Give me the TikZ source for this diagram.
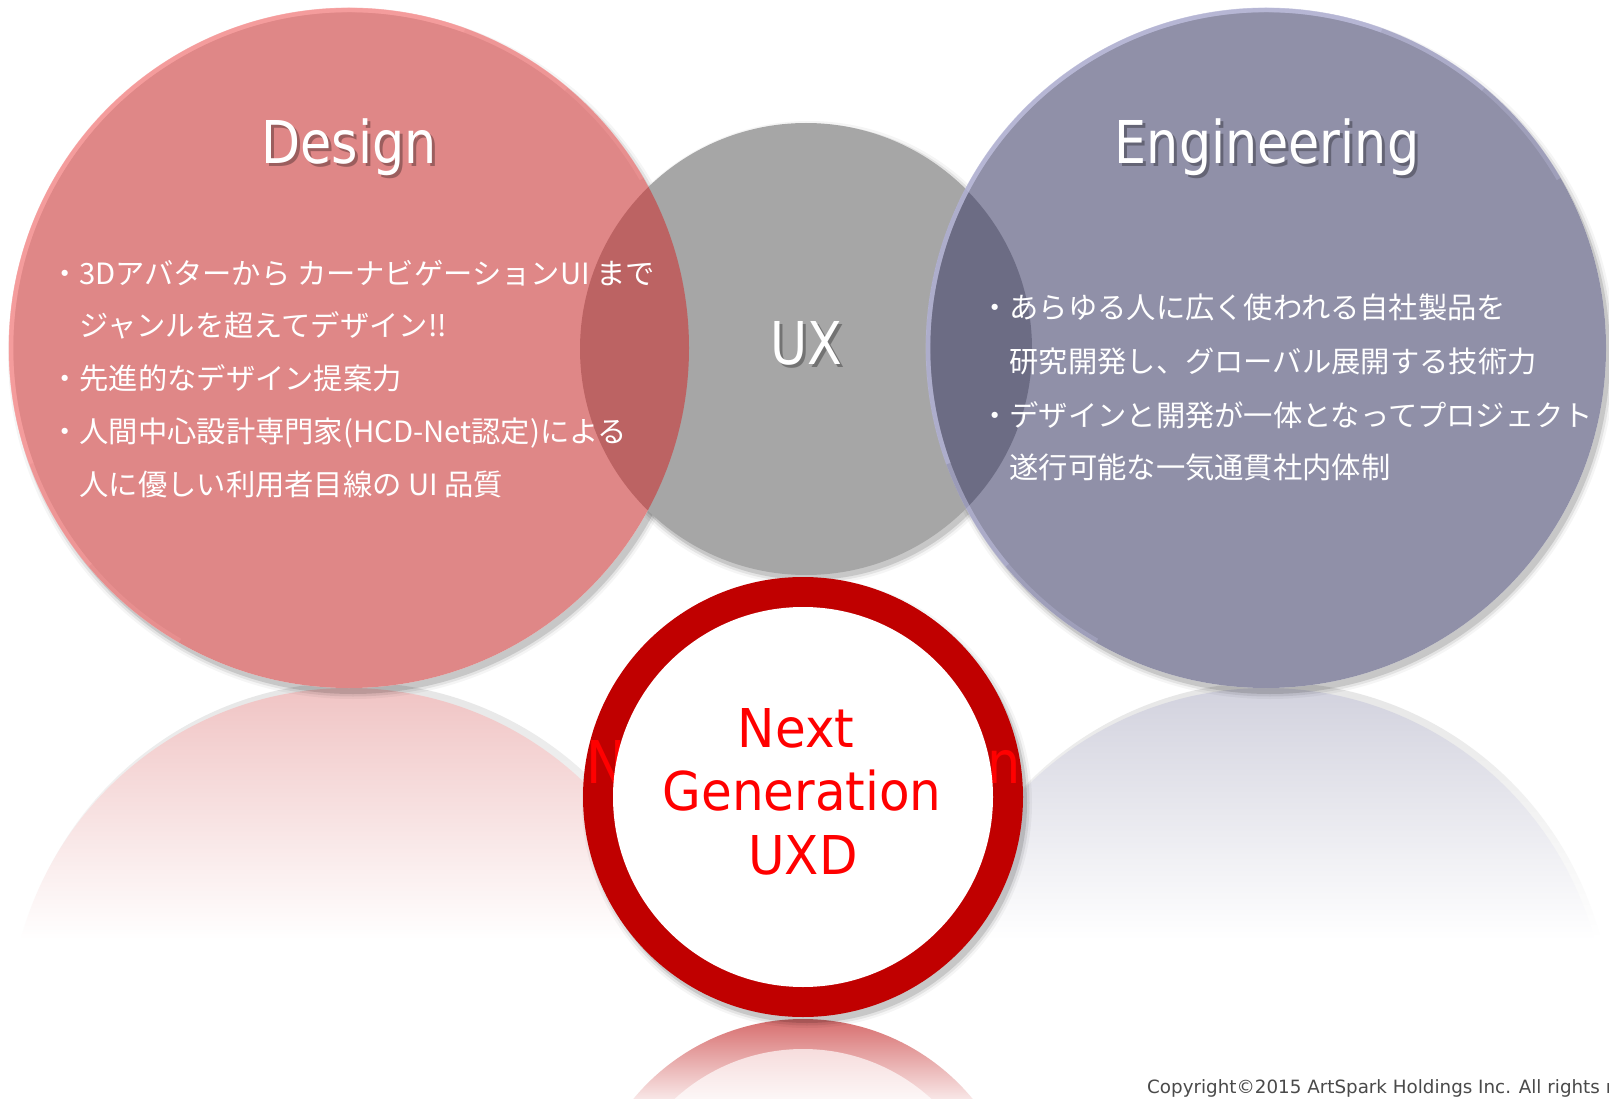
\documentclass[tikz,border=0pt]{standalone}
\usepackage{fontspec}
\setmainfont{DejaVu Sans}
\newfontfamily\jpfont{Noto Sans CJK JP}
\usetikzlibrary{calc}

\definecolor{designfill}{HTML}{CB3737}
\definecolor{engfill}{HTML}{46466E}
\definecolor{uxfill}{HTML}{A6A6A6}
\definecolor{ringred}{HTML}{C00000}
\definecolor{uxdred}{HTML}{FF0000}
\definecolor{designrim}{HTML}{FCA4A4}
\definecolor{engrim}{HTML}{C4C4E4}
\definecolor{designrefl}{HTML}{F0C4C4}
\definecolor{engrefl}{HTML}{D2D2DE}
\definecolor{shadowrefl}{HTML}{E6E6E6}
\definecolor{ringrefl}{HTML}{D66A6A}
\definecolor{ringreflin}{HTML}{F6DCDC}
\definecolor{copygray}{HTML}{4A4A4A}

% horizontally condensed text
\newcommand{\narrowtext}[2]{\scalebox{#1}[1]{#2}}
% drop shadow: centre, radius (in pt)
\newcommand{\softshadow}[2]{%
  \foreach \sr/\so in {5/0.04,2.5/0.07,0/0.12}{%
    \fill[black,opacity=\so] #1 circle[radius={(#2+\sr)*1pt}];}}
% light bevel along the upper-left edge of a circle: centre, colour
\newcommand{\edgelight}[2]{%
  \foreach \sa/\ea/\eo in {30/240/0.3,50/220/0.35,70/200/0.45}{%
    \draw[#2, line width=4.5pt, opacity=\eo] ($#1+(\sa:338pt)$) arc[start angle=\sa, end angle=\ea, radius=338pt];}}

\tikzset{
  titletext/.style={text=white, font=\fontsize{59}{59}\selectfont, inner sep=0pt, anchor=base},
  titleshade/.style={text=black, opacity=0.3, font=\fontsize{59}{59}\selectfont, inner sep=0pt, anchor=base},
  bodyline/.style={text=white, font=\jpfont\fontsize{29.3}{29.3}\selectfont, inner sep=0pt, anchor=base west},
  uxdtext/.style={text=uxdred, font=\fontsize{53.5}{53.5}\selectfont, inner sep=0pt, anchor=base},
  uxdback/.style={text=uxdred, font=\fontsize{59}{59}\selectfont, inner sep=0pt},
  copytext/.style={text=copygray, font=\fontsize{18.3}{18.3}\selectfont, inner sep=0pt, anchor=base west},
}

\begin{document}
\begin{tikzpicture}[x=1pt,y=-1pt]
\useasboundingbox (0,0) rectangle (1609,1099);
\fill[white] (0,0) rectangle (1609,1099);

\coordinate (dc) at (349,348);
\coordinate (uc) at (806,349);
\coordinate (ec) at (1266,348);
\coordinate (rc) at (803,797);
\coordinate (drc) at (349,1028);
\coordinate (erc) at (1266,1028);
\coordinate (rrc) at (803,1239);

% mirrored reflections under the two large circles
\begin{scope}
  \clip ($(drc)+(4,-5)$) circle[radius=341pt];
  \shade[top color=shadowrefl, bottom color=white] (0,683) rectangle (720,940);
\end{scope}
\begin{scope}
  \clip (drc) circle[radius=340pt];
  \shade[top color=designrefl, bottom color=white] (0,688) rectangle (720,940);
\end{scope}
\begin{scope}
  \clip ($(erc)+(4,-5)$) circle[radius=341pt];
  \shade[top color=shadowrefl, bottom color=white] (900,683) rectangle (1609,940);
\end{scope}
\begin{scope}
  \clip (erc) circle[radius=340pt];
  \shade[top color=engrefl, bottom color=white] (900,688) rectangle (1609,940);
\end{scope}

% drop shadows
\softshadow{($(dc)+(4,6)$)}{340}
\softshadow{($(uc)+(3,4)$)}{227}
\softshadow{($(ec)+(4,6)$)}{340}
\fill[white] (dc) circle[radius=340pt];
\fill[white] (ec) circle[radius=340pt];

% the three circles
\fill[uxfill] (uc) circle[radius=226pt];
\fill[designfill, opacity=0.6] (dc) circle[radius=340pt];
\fill[engfill, opacity=0.6] (ec) circle[radius=340pt];
\edgelight{(dc)}{designrim}
\edgelight{(ec)}{engrim}

% titles
\node[titleshade] (designsh) at (352,167) {\narrowtext{0.86}{Design}};
\node[titletext] (design) at (349,164) {\narrowtext{0.86}{Design}};
\node[titleshade] (uxsh) at (809,367) {\narrowtext{0.86}{UX}};
\node[titletext] (ux) at (806,364) {\narrowtext{0.86}{UX}};
\node[titleshade] (engsh) at (1270,167) {\narrowtext{0.86}{Engineering}};
\node[titletext] (eng) at (1267,164) {\narrowtext{0.86}{Engineering}};

% design bullets
\node[bodyline] (d1) at (50,285) {・3Dアバターから カーナビゲーションUI まで};
\node[bodyline] (d2) at (79.3,336) {ジャンルを超えてデザイン!!};
\node[bodyline] (d3) at (50,389) {・先進的なデザイン提案力};
\node[bodyline] (d4) at (50,442) {・人間中心設計専門家(HCD-Net認定)による};
\node[bodyline] (d5) at (79.3,495) {人に優しい利用者目線の UI 品質};

% engineering bullets
\node[bodyline] (e1) at (980,319) {・あらゆる人に広く使われる自社製品を};
\node[bodyline] (e2) at (1009.3,372) {研究開発し、グローバル展開する技術力};
\node[bodyline] (e3) at (980,426) {・デザインと開発が一体となってプロジェクト};
\node[bodyline] (e4) at (1009.3,478) {遂行可能な一気通貫社内体制};

% ring reflection
\begin{scope}
  \clip (rrc) circle[radius=220pt];
  \shade[top color=ringrefl, bottom color=white] (570,1017) rectangle (1040,1115);
\end{scope}
\begin{scope}
  \clip (rrc) circle[radius=190pt];
  \shade[top color=ringreflin, bottom color=white] (600,1048) rectangle (1010,1115);
\end{scope}

% red ring with the letters showing on the band
\softshadow{($(rc)+(4,6)$)}{220}
\fill[ringred] (rc) circle[radius=220pt];
\begin{scope}
  \clip (rc) circle[radius=220pt];
  \node[uxdback, anchor=base west] (bandN) at (586,783) {\narrowtext{0.89}{N}};
  \node[uxdback, anchor=base east] (bandn) at (1021,783) {\narrowtext{0.89}{n}};
\end{scope}
\fill[white] (rc) circle[radius=190pt];
\node[uxdtext] (next) at (796,747) {\narrowtext{0.935}{Next}};
\node[uxdtext] (gen) at (802,810) {\narrowtext{0.935}{Generation}};
\node[uxdtext] (uxd) at (803,874) {\narrowtext{0.935}{UXD}};

\node[copytext] (copy) at (1147,1093) {Copyright©2015 ArtSpark Holdings Inc. All rights r};
\end{tikzpicture}
\end{document}
